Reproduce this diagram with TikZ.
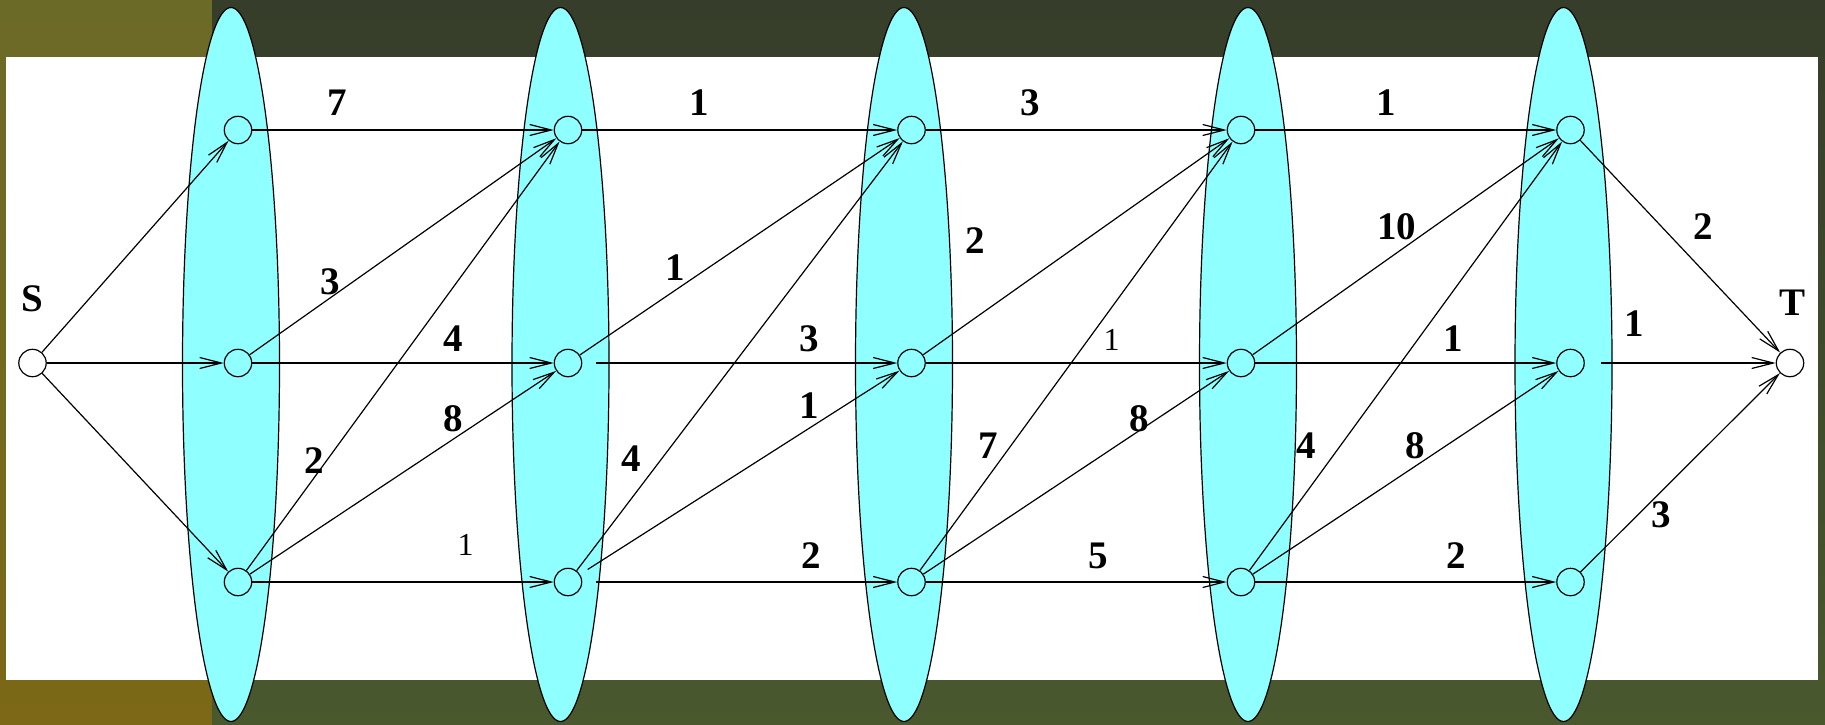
\documentclass[tikz,border=0pt]{standalone}
\usepackage{fontspec}
\setmainfont{Liberation Serif}
\usetikzlibrary{arrows.meta}
\definecolor{bandLeftTop}{RGB}{107,106,39}
\definecolor{bandLeftBot}{RGB}{124,104,22}
\definecolor{bandRightTop}{RGB}{54,61,42}
\definecolor{bandRightBot}{RGB}{74,88,46}
\definecolor{stageCol}{RGB}{143,255,255}

\begin{document}
\begin{tikzpicture}[
    x=0.5pt, y=-0.5pt,
    >={Straight Barb[length=10.8pt, width=5.5pt]},
    vertex/.style={circle, draw, line width=0.6pt, minimum size=13.7pt, inner sep=0pt},
    stage/.style={fill=stageCol, draw=black, line width=0.6pt},
    flow/.style={->, line width=0.6pt},
    wt/.style={font=\fontsize{19.5}{20}\selectfont\bfseries, inner sep=0pt},
    wtThin/.style={font=\fontsize{16}{17}\selectfont, inner sep=0pt}
]
    \useasboundingbox (0,0) rectangle (1825,724);

    % ---------------- background ----------------
    \shade[top color=bandLeftTop, bottom color=bandLeftBot] (0,0) rectangle (212,724);
    \shade[top color=bandRightTop, bottom color=bandRightBot] (212,0) rectangle (1825,724);
    \fill[white] (6,57) rectangle (1818,680);

    % ---------------- stages ----------------
    \foreach \cx in {231, 560.5, 904, 1248, 1563.5}
        \filldraw[stage] (\cx,364.5) ellipse [x radius=48.5, y radius=357];

    % ---------------- row positions ----------------
    \def\yTop{130}
    \def\yMid{363}
    \def\yBot{582}

    % ---------------- vertices ----------------
    \node[vertex] (S) at (32.5,\yMid) {};
    \node[vertex] (T) at (1790,\yMid) {};
    \foreach \c/\x in {a/238, b/568, c/911.5, d/1241, e/1570.5} {
        \node[vertex] (\c1) at (\x,\yTop) {};
        \node[vertex] (\c2) at (\x,\yMid) {};
        \node[vertex] (\c3) at (\x,\yBot) {};
    }
    \node[wt] (sLab) at (32.6,299) {S};
    \node[wt] (tLab) at (1792,302.6) {T};

    % ---------------- edges ----------------
    \foreach \u/\v in {S/a1, S/a2, S/a3, a1/b1, a2/b1, a3/b1, a2/b2, a3/b2, a3/b3,
                       b1/c1, b2/c1, b3/c1, c1/d1, c2/d1, c3/d1, c2/d2, c3/d2, c3/d3,
                       d1/e1, d2/e1, d3/e1, d2/e2, d3/e2, d3/e3, e1/T, e3/T}
        \draw[flow] (\u) -- (\v);
    \draw[flow, shorten <=7pt] (b2) -- (c2);
    \draw[flow, shorten <=4.5pt] (b3) -- (c2);
    \draw[flow, shorten <=7pt] (b3) -- (c3);
    \draw[flow, shorten <=8pt] (e2) -- (T);

    % ---------------- weights ----------------
    \node[wt] (wA1B1) at (337.5,102.4) {7};
    \node[wt] (wA2B1) at (330.5,281.7) {3};
    \node[wt] (wA3B1) at (314,461) {2};
    \node[wt] (wA2B2) at (452.8,338.7) {4};
    \node[wt] (wA3B2) at (452.8,419) {8};
    \node[wtThin] (wA3B3) at (465.6,544.7) {1};

    \node[wt] (wB1C1) at (699.5,102.4) {1};
    \node[wt] (wB2C1) at (675,267.7) {1};
    \node[wt] (wB3C1) at (630.8,458.6) {4};
    \node[wt] (wB2C2) at (809,338.7) {3};
    \node[wt] (wB3C2) at (809,406) {1};
    \node[wt] (wB3C3) at (811,556) {2};

    \node[wt] (wC1D1) at (1030,102.4) {3};
    \node[wt] (wC2D1) at (975.4,241) {2};
    \node[wt] (wC3D1) at (988,445.8) {7};
    \node[wtThin] (wC2D2) at (1111.5,340) {1};
    \node[wt] (wC3D2) at (1139.5,419) {8};
    \node[wt] (wC3D3) at (1098.7,556) {5};

    \node[wt] (wD1E1) at (1386,102.4) {1};
    \node[wt] (wD2E1) at (1396.7,227) {10};
    \node[wt] (wD3E1) at (1306,445.8) {4};
    \node[wt] (wD2E2) at (1453.7,338.7) {1};
    \node[wt] (wD3E2) at (1415,445.8) {8};
    \node[wt] (wD3E3) at (1456,556) {2};

    \node[wt] (wE1T) at (1702.8,227) {2};
    \node[wt] (wE2T) at (1634,323.6) {1};
    \node[wt] (wE3T) at (1661,514.4) {3};

\end{tikzpicture}
\end{document}
